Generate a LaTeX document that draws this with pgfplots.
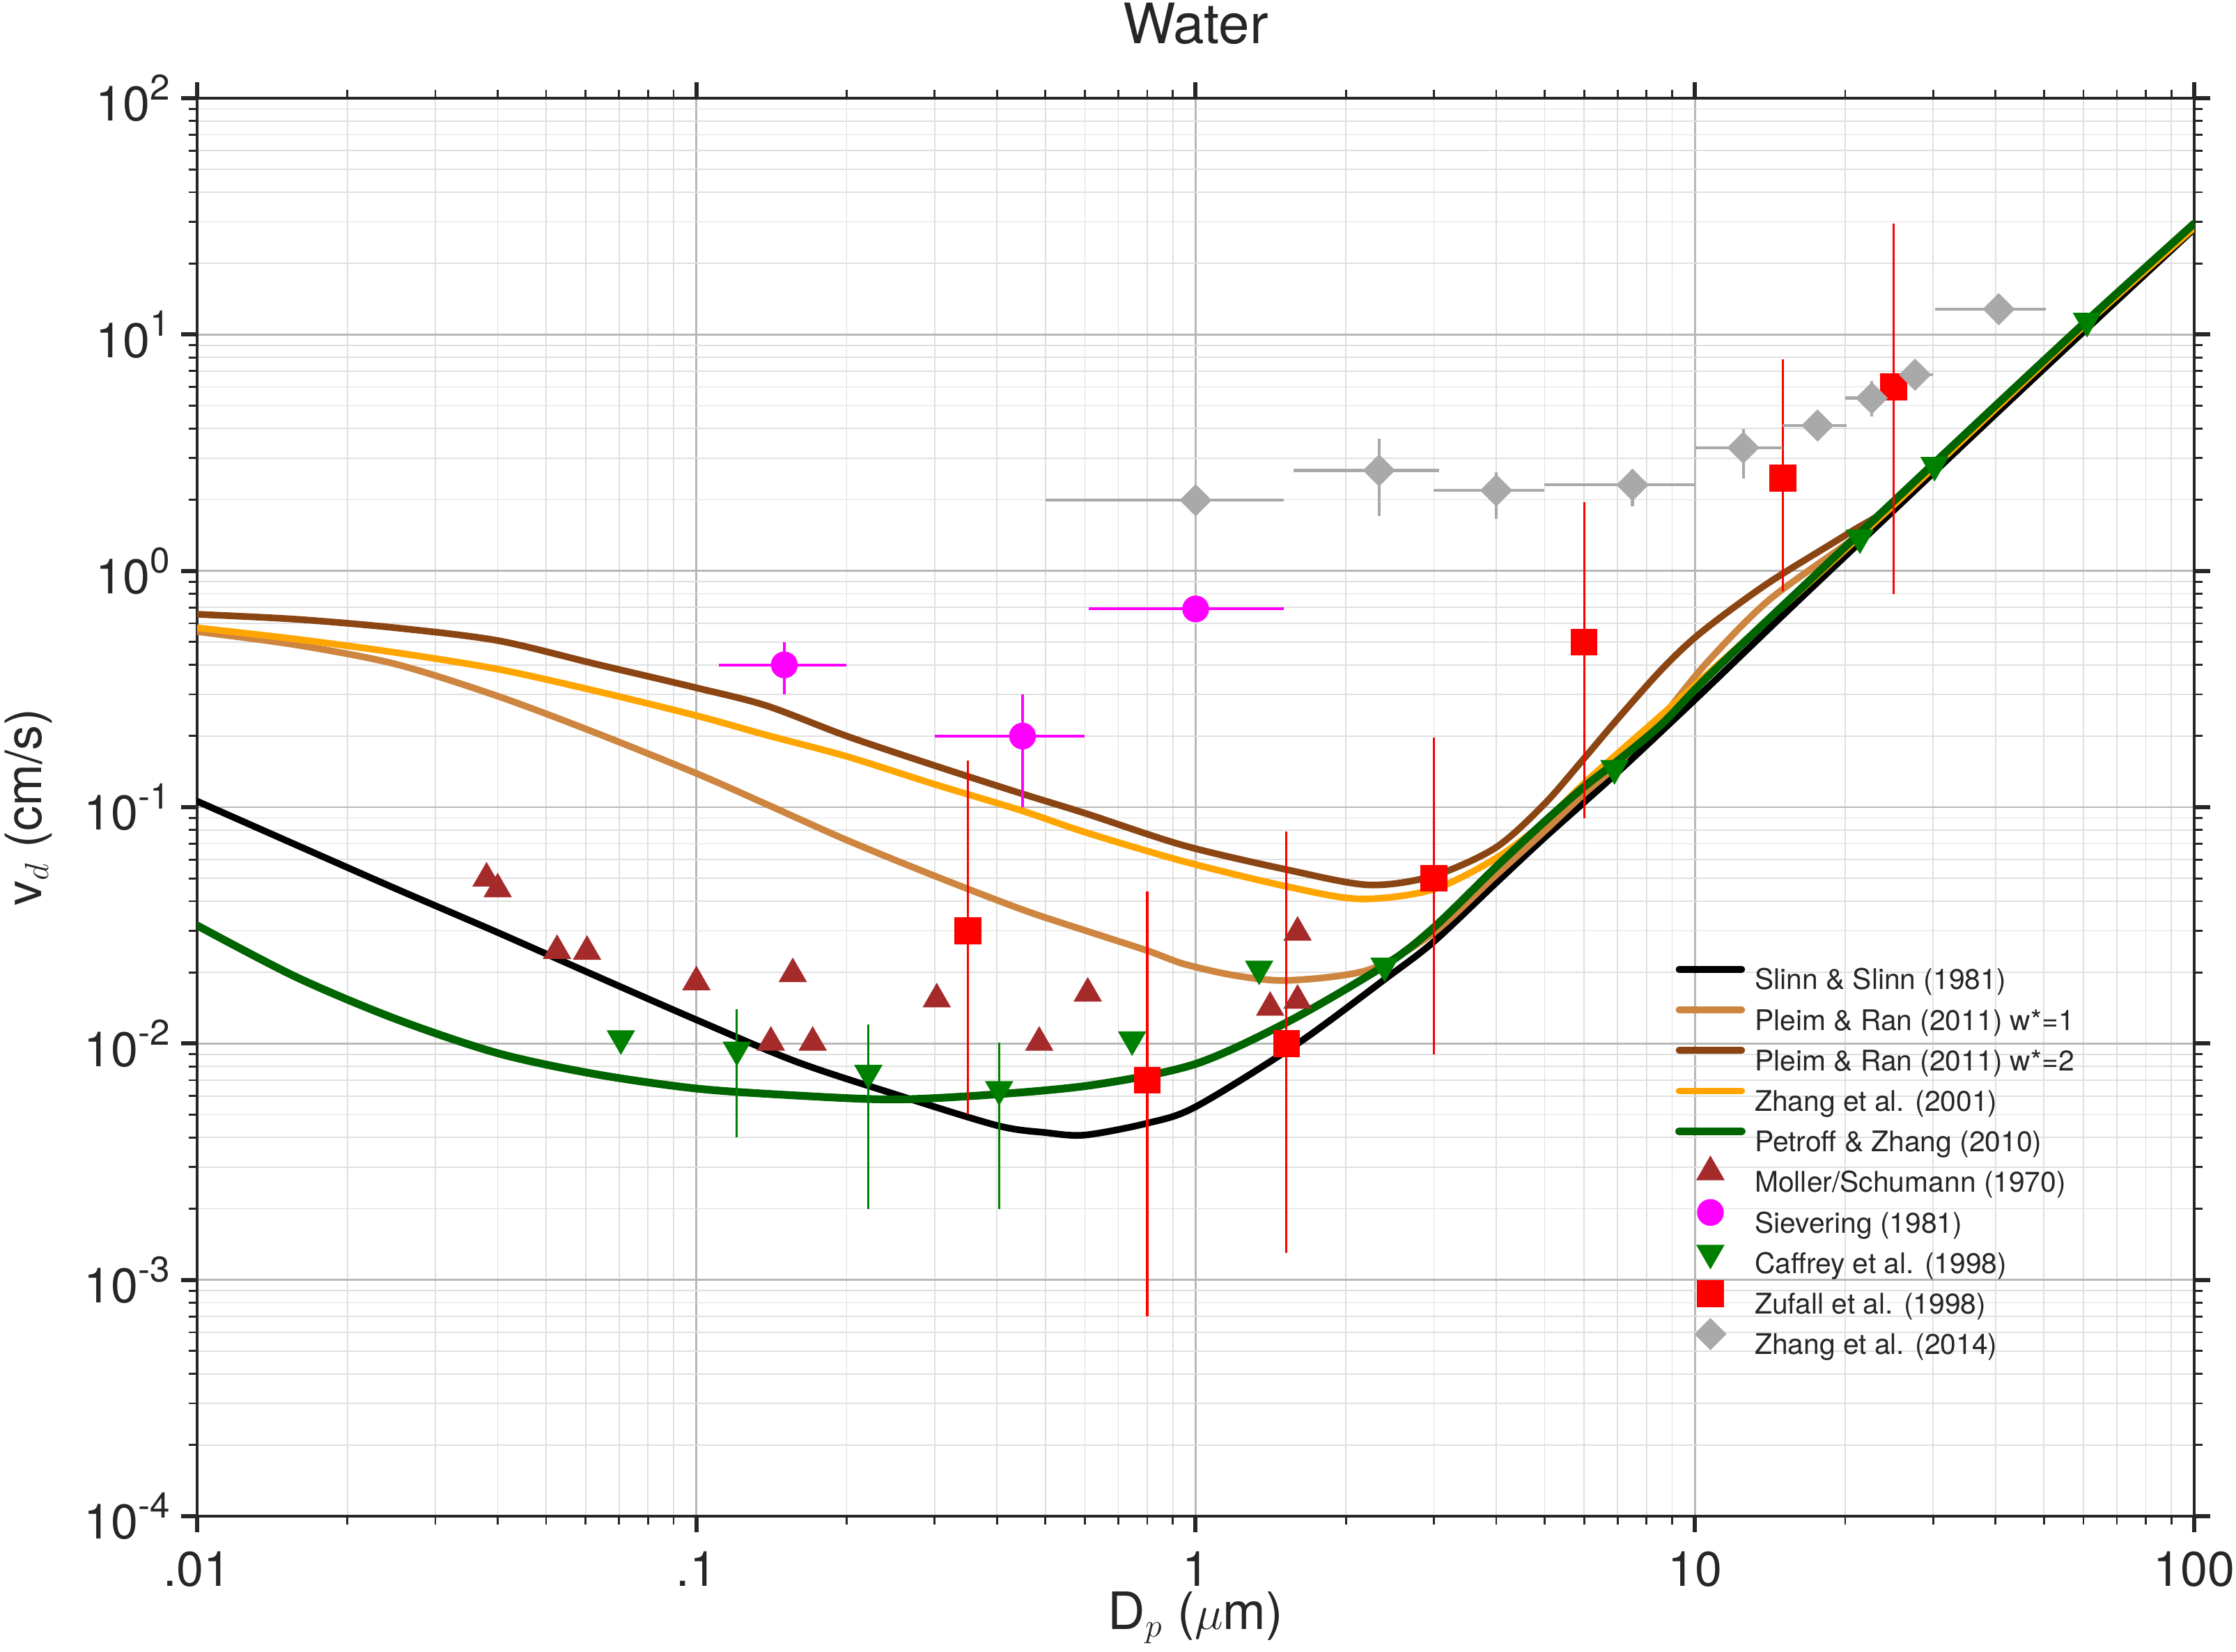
\documentclass[border=0pt]{standalone}
\usepackage{fontspec}
\setmainfont{TeX Gyre Heros}
\usepackage{pgfplots}
\pgfplotsset{compat=1.18}
\definecolor{tanline}{HTML}{CD853F}
\definecolor{brownline}{HTML}{8B4513}
\definecolor{orangeline}{HTML}{FFA500}
\definecolor{greenline}{HTML}{006400}
\definecolor{moller}{HTML}{A52A2A}
\definecolor{sievering}{HTML}{FF00FF}
\definecolor{caffrey}{HTML}{008000}
\definecolor{zufall}{HTML}{FF0000}
\definecolor{zhanggray}{HTML}{A9A9A9}
\definecolor{framec}{HTML}{262626}
\definecolor{majgrid}{HTML}{B8B8B8}
\definecolor{mingrid}{HTML}{E0E0E0}
\newcommand\sexp[1]{10\raisebox{7.6pt}{\fontsize{12.8}{14}\selectfont #1}}
\pgfplotsset{
  lineleg/.style={legend image code/.code={\draw[##1] (0pt,3.65pt) -- (22.5pt,3.65pt); \path[draw=none, fill=none] (0pt,-2.1pt) rectangle (22.5pt,9.4pt);}},
  markleg/.style={legend image code/.code={\draw[##1] plot coordinates {(11.25pt,3.65pt)}; \path[draw=none, fill=none] (0pt,-2.1pt) rectangle (22.5pt,9.4pt);}},
}
\begin{document}
\begin{tikzpicture}
\begin{axis}[
  xmode=log, ymode=log,
  xmin=0.01, xmax=100, ymin=1e-4, ymax=100,
  width=716.75pt, height=509pt, scale only axis,
  axis line style={framec, line width=1.2pt},
  tick align=outside,
  major tick length=5.75pt, minor tick length=3.1pt,
  every major tick/.append style={line width=1.5pt, framec},
  every minor tick/.append style={line width=0.7pt, framec},
  grid=both,
  major grid style={majgrid, line width=0.65pt},
  minor grid style={mingrid, line width=0.45pt},
  xtick={0.01,0.1,1,10,100},
  xticklabels={.01,.1,1,10,100},
  minor xtick={0.02,0.03,0.04,0.05,0.06,0.07,0.08,0.09,0.2,0.3,0.4,0.5,0.6,0.7,0.8,0.9,2,3,4,5,6,7,8,9,20,30,40,50,60,70,80,90},
  ytick={1e-4,1e-3,1e-2,1e-1,1,10,100},
  yticklabels={\sexp{-4},\sexp{-3},\sexp{-2},\sexp{-1},\sexp{0},\sexp{1},\sexp{2}},
  minor ytick={2e-4,3e-4,4e-4,5e-4,6e-4,7e-4,8e-4,9e-4,2e-3,3e-3,4e-3,5e-3,6e-3,7e-3,8e-3,9e-3,2e-2,3e-2,4e-2,5e-2,6e-2,7e-2,8e-2,9e-2,0.2,0.3,0.4,0.5,0.6,0.7,0.8,0.9,2,3,4,5,6,7,8,9,20,30,40,50,60,70,80,90},
  xticklabel style={font=\fontsize{17.5}{21}\selectfont, text=framec, inner sep=0pt, anchor=north, yshift=-6.75pt},
  yticklabel style={font=\fontsize{17.5}{21}\selectfont, text=framec, inner sep=0pt, anchor=east, xshift=-3.75pt},
  every axis title shift=0pt,
  title={Water},
  title style={at={(axis description cs:0.5,1.0383)}, anchor=base, font=\fontsize{20}{24}\selectfont, text=framec, inner sep=0pt},
  xlabel={D$_p$ ($\mu$m)},
  xlabel style={at={(axis description cs:0.5,-0.0800)}, anchor=base, font=\fontsize{18.5}{22}\selectfont, text=framec, inner sep=0pt},
  ylabel={v$_d$ (cm/s)},
  ylabel style={at={(axis description cs:-0.0844,0.5)}, anchor=center, font=\fontsize{18}{22}\selectfont, text=framec, inner sep=0pt},
  legend cell align=left,
  legend style={at={(axis description cs:0.7401,0.397)}, anchor=north west, draw=none, fill=none,
    font=\fontsize{10.2}{12}\selectfont, text=framec, inner sep=0pt, outer sep=0pt,
    row sep=-0.6pt, column sep=3.3pt,
    nodes={inner sep=0pt, text height=9.4pt, text depth=2.1pt}},
]
% ---------- model curves ----------
\addplot[black, line width=2.4pt, smooth, tension=0.5, line cap=round, lineleg] table {
x y
0.01 0.106
0.0158 0.0692
0.025 0.0452
0.04 0.0295
0.063 0.0193
0.1 0.0126
0.158 0.0084
0.25 0.0061
0.4 0.0045
0.5 0.0042
0.6 0.0041
0.8 0.0046
1.0 0.0054
1.59 0.0099
2.4 0.0188
3.0 0.027
4.0 0.0479
5.0 0.0744
7.0 0.1405
10 0.285
15.8 0.72
25 1.80
40 4.6
63 11.3
100 28
};
\addlegendentry{Slinn \& Slinn (1981)}
\addplot[tanline, line width=2.4pt, smooth, tension=0.5, line cap=round, lineleg] table {
x y
0.01 0.553
0.0158 0.486
0.025 0.403
0.04 0.295
0.063 0.206
0.1 0.139
0.138 0.103
0.2 0.0726
0.3 0.0512
0.449 0.0369
0.603 0.0300
0.801 0.0247
0.948 0.0217
1.2 0.0194
1.535 0.0185
2.22 0.0205
2.98 0.0292
3.98 0.0512
4.97 0.0784
5.97 0.113
6.96 0.150
8.58 0.240
10.5 0.403
14 0.746
20.5 1.34
25 1.90
40 4.85
63 11.9
100 28.7
};
\addlegendentry{Pleim \& Ran (2011) w*=1}
\addplot[brownline, line width=2.4pt, smooth, tension=0.5, line cap=round, lineleg] table {
x y
0.01 0.655
0.0158 0.624
0.025 0.574
0.04 0.507
0.063 0.403
0.1 0.320
0.138 0.269
0.2 0.200
0.3 0.150
0.449 0.114
0.603 0.094
0.948 0.0688
1.535 0.0542
2.22 0.0469
2.98 0.0511
3.98 0.0672
4.97 0.102
5.97 0.159
6.96 0.233
8.58 0.383
10.3 0.55
14 0.886
20.5 1.46
25 1.93
40 4.95
63 12.1
100 29
};
\addlegendentry{Pleim \& Ran (2011) w*=2}
\addplot[orangeline, line width=2.4pt, smooth, tension=0.5, line cap=round, lineleg] table {
x y
0.01 0.574
0.0158 0.514
0.025 0.451
0.04 0.384
0.063 0.310
0.1 0.244
0.138 0.202
0.2 0.164
0.3 0.125
0.449 0.0966
0.6 0.0784
0.948 0.0589
1.535 0.046
2.14 0.0409
2.98 0.0448
3.98 0.0605
4.97 0.0859
5.97 0.125
6.96 0.167
8.58 0.246
10.5 0.36
15.8 0.78
25 1.9
40 4.85
63 11.9
100 28.3
};
\addlegendentry{Zhang et al. (2001)}
\addplot[greenline, line width=2.8pt, smooth, tension=0.5, line cap=round, lineleg] table {
x y
0.01 0.0316
0.0158 0.0191
0.025 0.0127
0.04 0.0091
0.063 0.00741
0.1 0.00645
0.158 0.00603
0.25 0.0058
0.4 0.0061
0.63 0.0067
1.0 0.0082
1.535 0.0124
2.4 0.0215
3.0 0.031
4.0 0.056
5.0 0.087
6.0 0.122
7.0 0.157
8.58 0.2245
10.5 0.349
15.8 0.79
25 1.97
40 5.0
63 12.2
100 29.5
};
\addlegendentry{Petroff \& Zhang (2010)}
% ---------- measurements ----------
\addplot[only marks, mark=triangle*, mark size=5.5pt, color=moller, markleg] table {
x y
0.038 0.050
0.040 0.045
0.0526 0.0247
0.0604 0.0245
0.100 0.0182
0.141 0.0101
0.156 0.0197
0.171 0.0101
0.303 0.0154
0.486 0.0101
0.608 0.0163
1.41 0.0142
1.60 0.0295
1.60 0.0152
};
\addlegendentry{Moller/Schumann (1970)}
\addplot[only marks, mark=*, mark size=4.6pt, color=sievering, markleg,
  error bars/.cd, x dir=both, x explicit, y dir=both, y explicit, error mark=none,
  error bar style={line width=1pt, sievering}]
  table[x=x, y=y, x error plus=xp, x error minus=xm, y error plus=yp, y error minus=ym] {
x y xp xm yp ym
0.15 0.40 0.05 0.039 0.10 0.10
0.45 0.20 0.15 0.15 0.10 0.10
1.0 0.69 0.5 0.39 0.09 0.07
};
\addlegendentry{Sievering (1981)}
\addplot[only marks, mark=triangle*, mark size=5.5pt, color=caffrey, mark options={rotate=180}, markleg,
  error bars/.cd, y dir=both, y explicit, error mark=none,
  error bar style={line width=0.8pt, caffrey}]
  table[x=x, y=y, y error plus=yp, y error minus=ym] {
x y yp ym
0.0706 0.0105 0 0
0.1205 0.0094 0.0046 0.0054
0.221 0.0075 0.0045 0.0055
0.404 0.0064 0.0037 0.0044
0.746 0.0104 0 0
1.34 0.0207 0 0
2.39 0.0213 0 0
6.9 0.146 0 0
21.4 1.38 0 0
30.2 2.80 0 0
61 11.4 0 0
};
\addlegendentry{Caffrey et al. (1998)}
\addplot[only marks, mark=square*, mark size=4.6pt, color=zufall, markleg,
  error bars/.cd, y dir=both, y explicit, error mark=none,
  error bar style={line width=0.8pt, zufall}]
  table[x=x, y=y, y error plus=yp, y error minus=ym] {
x y yp ym
0.35 0.030 0.128 0.025
0.80 0.0070 0.037 0.0063
1.52 0.0100 0.069 0.0087
3.0 0.050 0.147 0.041
6.0 0.50 1.45 0.41
15.0 2.47 5.4 1.65
25.0 6.0 23.5 5.2
};
\addlegendentry{Zufall et al. (1998)}
\addplot[only marks, mark=square*, mark size=3.9pt, color=zhanggray, mark options={rotate=45}, markleg,
  error bars/.cd, x dir=both, x explicit, y dir=both, y explicit, error mark=none,
  error bar style={line width=1.1pt, zhanggray}]
  table[x=x, y=y, x error plus=xp, x error minus=xm, y error plus=yp, y error minus=ym] {
x y xp xm yp ym
1.0 1.99 0.5 0.5 0 0
2.33 2.66 0.74 0.76 0.95 0.96
4.0 2.19 1.0 1.0 0.43 0.53
7.5 2.31 2.5 2.5 0.37 0.44
12.5 3.32 2.5 2.5 0.66 0.86
17.6 4.12 2.5 2.6 0.63 0.53
22.6 5.38 2.4 2.6 0.97 0.88
27.6 6.76 2.4 2.6 1.0 0.85
40.6 12.8 9.9 10.3 0 0
};
\addlegendentry{Zhang et al. (2014)}
\end{axis}
\pgfresetboundingbox
\path[use as bounding box] ([shift={(-70.75pt,-48.75pt)}]current axis.south west) rectangle ++(802.5pt,593pt);
\end{tikzpicture}
\end{document}
